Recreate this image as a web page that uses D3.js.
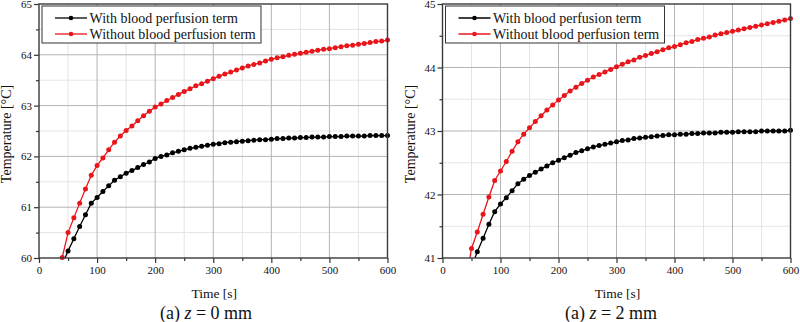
<!DOCTYPE html>
<html>
<head>
<meta charset="utf-8">
<script src="https://cdn.jsdelivr.net/npm/d3@7"></script>
<style>
  html, body { margin: 0; padding: 0; background: #fff; }
  svg { display: block; }
</style>
</head>
<body>
<svg id="chart" width="800" height="322" font-family="Liberation Serif"></svg>
<script>
// ---------- DATA ----------
const time = [40,50,60,70,80,90,100,110,120,130,140,150,160,170,180,190,200,210,220,230,240,250,260,270,280,290,300,310,320,330,340,350,360,370,380,390,400,410,420,430,440,450,460,470,480,490,500,510,520,530,540,550,560,570,580,590,600];

const seriesNames = ["With blood perfusion term", "Without blood perfusion term"];

// Panel (a) z = 0 mm
const z0With = [59.87,60.14,60.38,60.62,60.85,61.08,61.19,61.31,61.42,61.53,61.60,61.67,61.72,61.78,61.84,61.89,61.96,62.00,62.03,62.07,62.10,62.13,62.16,62.18,62.20,62.22,62.24,62.25,62.27,62.28,62.29,62.30,62.31,62.32,62.33,62.33,62.34,62.35,62.35,62.36,62.36,62.37,62.37,62.38,62.38,62.38,62.39,62.39,62.39,62.40,62.40,62.40,62.40,62.41,62.41,62.41,62.41];
const z0Without = [60.01,60.50,60.79,61.08,61.36,61.63,61.82,61.97,62.13,62.28,62.40,62.51,62.60,62.70,62.80,62.89,62.97,63.03,63.10,63.16,63.22,63.28,63.33,63.39,63.43,63.48,63.53,63.58,63.62,63.66,63.70,63.74,63.78,63.81,63.84,63.88,63.91,63.94,63.96,63.99,64.01,64.03,64.05,64.07,64.09,64.11,64.12,64.14,64.16,64.18,64.19,64.21,64.22,64.24,64.26,64.27,64.29];

// Panel z = 2 mm
const z2With = [null,40.85,41.10,41.31,41.53,41.73,41.85,41.95,42.06,42.17,42.24,42.30,42.35,42.40,42.45,42.50,42.54,42.58,42.62,42.66,42.69,42.72,42.75,42.77,42.79,42.81,42.83,42.85,42.86,42.88,42.89,42.90,42.91,42.92,42.93,42.94,42.94,42.95,42.95,42.96,42.96,42.97,42.97,42.97,42.98,42.98,42.98,42.99,42.99,42.99,42.99,43.00,43.00,43.00,43.00,43.00,43.01];
const z2Without = [40.62,41.15,41.41,41.69,41.96,42.22,42.37,42.52,42.68,42.83,42.95,43.05,43.15,43.24,43.33,43.41,43.49,43.56,43.63,43.69,43.75,43.80,43.85,43.89,43.93,43.97,44.01,44.05,44.09,44.12,44.16,44.19,44.22,44.25,44.28,44.31,44.33,44.36,44.39,44.41,44.44,44.46,44.48,44.51,44.53,44.55,44.57,44.59,44.61,44.63,44.65,44.67,44.69,44.71,44.73,44.75,44.77];

const xMajorTicks = [0,100,200,300,400,500,600];
const xMinorTicks = [50,150,250,350,450,550];
const z0YTicks = [60,61,62,63,64,65];
const z0YMinor = [60.5,61.5,62.5,63.5,64.5];
const z2YTicks = [41,42,43,44,45];
const z2YMinor = [41.5,42.5,43.5,44.5];

const xTitle = "Time [s]";
const yTitle = "Temperature [°C]";

// ---------- DRAWING ----------
const FONT = '"Liberation Serif", "Times New Roman", Times, serif';
const svg = d3.select("#chart");
const colors = ["#000000", "#e8161b"];

function styleText(sel, size) {
  sel.attr("font-family", "Liberation Serif").style("font-family", FONT)
     .attr("font-size", size).style("font-size", size + "px").attr("fill", "#111");
  return sel;
}

function drawPanel(cfg) {
  const x = d3.scaleLinear().domain([0, 600]).range([cfg.x0, cfg.x1]);
  const y = d3.scaleLinear().domain(cfg.yDomain).range([258, 4]);
  const g = svg.append("g");
  const top = 4, bot = 258;

  // grid minor
  g.append("g").selectAll("line").data(xMinorTicks).join("line")
    .attr("x1", d => x(d)).attr("x2", d => x(d)).attr("y1", top).attr("y2", bot)
    .attr("stroke", "#e4e4e4").attr("stroke-width", 1);
  g.append("g").selectAll("line").data(cfg.yMinor).join("line")
    .attr("x1", cfg.x0).attr("x2", cfg.x1).attr("y1", d => y(d)).attr("y2", d => y(d))
    .attr("stroke", "#e4e4e4").attr("stroke-width", 1);
  // grid major
  g.append("g").selectAll("line").data(xMajorTicks.slice(1, -1)).join("line")
    .attr("x1", d => x(d)).attr("x2", d => x(d)).attr("y1", top).attr("y2", bot)
    .attr("stroke", "#b4b4b4").attr("stroke-width", 1);
  g.append("g").selectAll("line").data(cfg.yTicks.slice(1, -1)).join("line")
    .attr("x1", cfg.x0).attr("x2", cfg.x1).attr("y1", d => y(d)).attr("y2", d => y(d))
    .attr("stroke", "#b4b4b4").attr("stroke-width", 1);

  // clip
  const cid = "clip" + cfg.id, cid2 = "clipd" + cfg.id;
  const defs = svg.append("defs");
  defs.append("clipPath").attr("id", cid).append("rect")
    .attr("x", cfg.x0).attr("y", top).attr("width", cfg.x1 - cfg.x0).attr("height", bot - top);
  defs.append("clipPath").attr("id", cid2).append("rect")
    .attr("x", cfg.x0).attr("y", top).attr("width", cfg.x1 - cfg.x0 + 3).attr("height", bot - top + 3);

  const seriesData = [cfg.withVals, cfg.withoutVals];
  seriesData.forEach((vals, i) => {
    const pts = time.map((t, k) => ({t, v: vals[k]})).filter(p => p.v !== null);
    const line = d3.line().x(p => x(p.t)).y(p => y(p.v));
    g.append("path").datum(pts).attr("d", line)
      .attr("fill", "none").attr("stroke", colors[i]).attr("stroke-width", 1.3)
      .attr("clip-path", `url(#${cid})`);
    g.append("g").attr("clip-path", `url(#${cid2})`)
      .selectAll("circle").data(pts).join("circle")
      .attr("cx", p => x(p.t)).attr("cy", p => y(p.v)).attr("r", 2.5)
      .attr("fill", colors[i]);
  });

  // axes
  const xAxis = d3.axisBottom(x).tickValues(xMajorTicks).tickSize(5).tickPadding(3).tickFormat(d3.format("d"));
  const xAxisMinor = d3.axisBottom(x).tickValues(xMinorTicks).tickSize(3).tickFormat("");
  const yAxis = d3.axisLeft(y).tickValues(cfg.yTicks).tickSize(5).tickPadding(2).tickFormat(d3.format("d"));
  const yAxisMinor = d3.axisLeft(y).tickValues(cfg.yMinor).tickSize(3).tickFormat("");

  [xAxis, xAxisMinor].forEach(ax => {
    const a = g.append("g").attr("transform", `translate(0,${bot})`).call(ax)
      .attr("font-family", "Liberation Serif");
    a.select(".domain").remove();
    a.selectAll("line").attr("stroke", "#333").attr("stroke-width", 1.2);
    styleText(a.selectAll("text"), 11);
  });
  [yAxis, yAxisMinor].forEach(ax => {
    const a = g.append("g").attr("transform", `translate(${cfg.x0},0)`).call(ax)
      .attr("font-family", "Liberation Serif");
    a.select(".domain").remove();
    a.selectAll("line").attr("stroke", "#333").attr("stroke-width", 1.2);
    styleText(a.selectAll("text"), 11);
  });

  // frame
  g.append("rect").attr("x", cfg.x0).attr("y", top).attr("width", cfg.x1 - cfg.x0).attr("height", bot - top)
    .attr("fill", "none").attr("stroke", "#3a3a3a").attr("stroke-width", 1.4);

  // legend
  const lg = g.append("g");
  lg.append("rect").attr("x", cfg.x0 + 3).attr("y", 6).attr("width", 219).attr("height", 37)
    .attr("fill", "#fff").attr("stroke", "#333").attr("stroke-width", 1);
  seriesNames.forEach((name, i) => {
    const ly = 18 + i * 16;
    lg.append("line").attr("x1", cfg.x0 + 16).attr("x2", cfg.x0 + 48).attr("y1", ly).attr("y2", ly)
      .attr("stroke", colors[i]).attr("stroke-width", 1.3);
    lg.append("circle").attr("cx", cfg.x0 + 32).attr("cy", ly).attr("r", 2.3).attr("fill", colors[i]);
    styleText(lg.append("text").attr("x", cfg.x0 + 50.5).attr("y", ly + 4.8), 14).text(name);
  });

  // axis titles
  styleText(g.append("text").attr("x", (cfg.x0 + cfg.x1) / 2 + 1).attr("y", 297.5)
    .attr("text-anchor", "middle"), 13.5).text(xTitle);
  styleText(g.append("text").attr("transform", `translate(${cfg.x0 - 28},134) rotate(-90)`)
    .attr("text-anchor", "middle"), 14).text(yTitle);

  // subtitle
  const st = styleText(g.append("text").attr("x", cfg.subX).attr("y", 319)
    .attr("text-anchor", "middle"), 18);
  st.append("tspan").text("(a) ");
  st.append("tspan").attr("font-style", "italic").text("z");
  st.append("tspan").text(" = " + cfg.zLabel + " mm");
}

drawPanel({id: "a", x0: 39, x1: 387.5, yDomain: [60, 65], yTicks: z0YTicks, yMinor: z0YMinor,
  withVals: z0With, withoutVals: z0Without, subX: 206, zLabel: "0"});
drawPanel({id: "b", x0: 442.5, x1: 790.5, yDomain: [41, 45], yTicks: z2YTicks, yMinor: z2YMinor,
  withVals: z2With, withoutVals: z2Without, subX: 611, zLabel: "2"});
</script>
</body>
</html>
